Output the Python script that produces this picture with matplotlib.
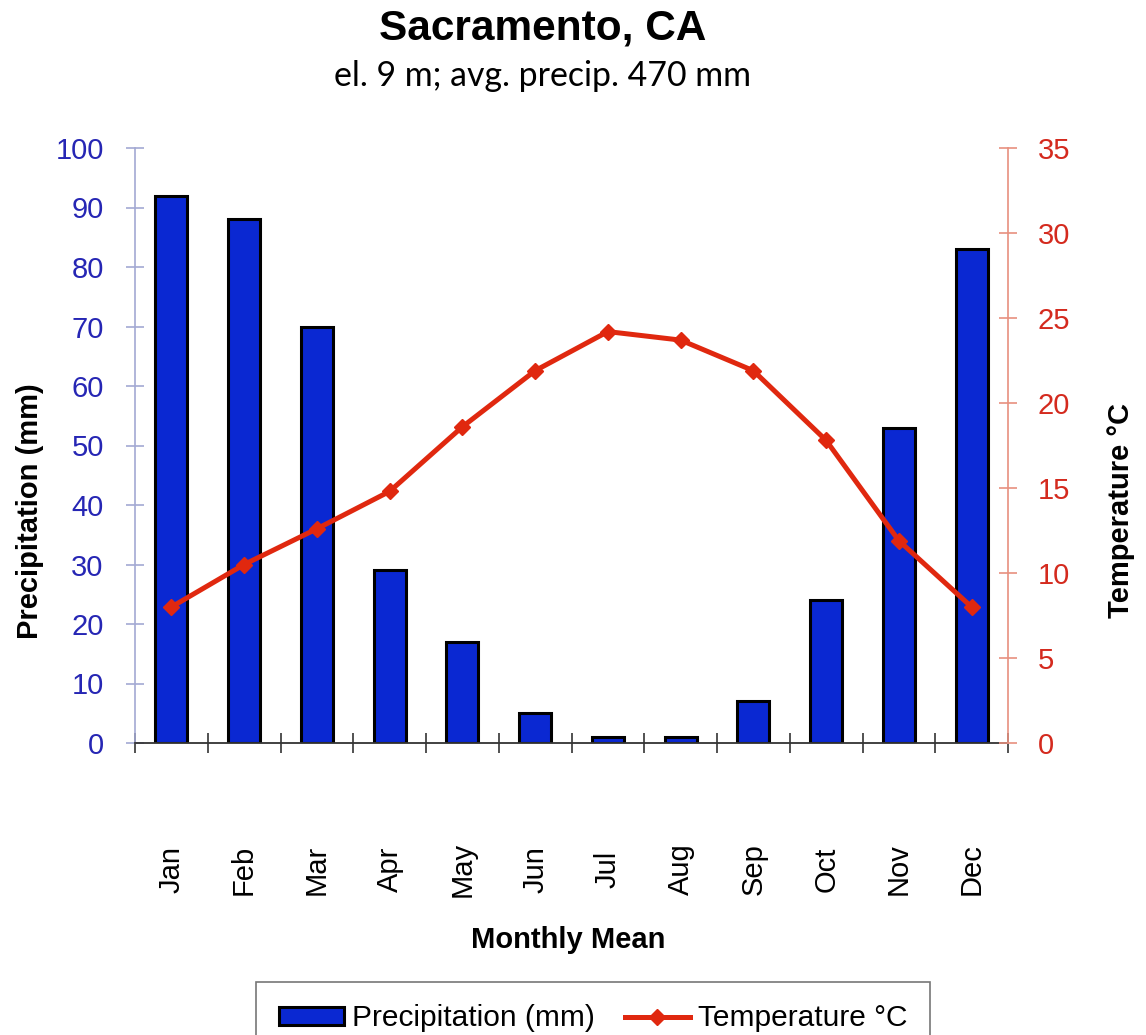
import numpy as np
import matplotlib.pyplot as plt
from matplotlib.ticker import FixedLocator

plt.rcParams['font.family'] = ['Liberation Sans', 'DejaVu Sans']

months = ['Jan', 'Feb', 'Mar', 'Apr', 'May', 'Jun',
          'Jul', 'Aug', 'Sep', 'Oct', 'Nov', 'Dec']
precip_mm = [92, 88, 70, 29, 17, 5, 1, 1, 7, 24, 53, 83]
temp_c = [8.0, 10.5, 12.6, 14.8, 18.6, 21.9, 24.2, 23.7, 21.9, 17.8, 11.9, 8.0]
precip_ticks = [0, 10, 20, 30, 40, 50, 60, 70, 80, 90, 100]
temp_ticks = [0, 5, 10, 15, 20, 25, 30, 35]

title = 'Sacramento, CA'
subtitle = 'el. 9 m; avg. precip. 470 mm'

blue_bar = '#0A28D2'
blue_txt = '#2626B4'
blue_spine = '#A3A9D3'
red_line = '#E0280F'
red_txt = '#D42A1E'
red_spine = '#E8907F'

fig = plt.figure(figsize=(11.46, 10.35), dpi=100)
ax = fig.add_axes([135 / 1146, 1 - 743 / 1035, 873 / 1146, 595 / 1035])
ax2 = ax.twinx()

x = np.arange(len(months))
bars = ax.bar(x, precip_mm, width=0.44, color=blue_bar, edgecolor='black',
              linewidth=2.2, label='Precipitation (mm)', zorder=2)
line, = ax2.plot(x, temp_c, color=red_line, linewidth=3.6, marker='D',
                 markersize=8, label='Temperature °C', zorder=3)

# left axis
ax.set_xlim(-0.5, len(months) - 0.5)
ax.set_ylim(0, 100)
ax.set_yticks(precip_ticks)
ax.tick_params(axis='y', direction='inout', length=13, width=1.2,
               color=blue_spine, labelcolor=blue_txt, labelsize=21, pad=16)
ax.spines['left'].set_color(blue_spine)
ax.spines['left'].set_linewidth(1.2)
ax.spines['top'].set_visible(False)
ax.spines['right'].set_visible(False)
ax.spines['bottom'].set_color('#333333')
ax.spines['bottom'].set_linewidth(1.3)

# x axis: labels at centers, crossing ticks at category edges
ax.set_xticks(x)
ax.set_xticklabels(months, rotation=90, va='center', ha='center')
ax.xaxis.set_minor_locator(FixedLocator(np.arange(-0.5, len(months), 1.0)))
ax.tick_params(axis='x', which='major', length=0, labelsize=21, pad=91)
ax.tick_params(axis='x', which='minor', direction='inout', length=14,
               width=1.2, color='#333333')

ax.set_ylabel('Precipitation (mm)', fontsize=21, fontweight='bold',
              va='center', ha='center')
ax.yaxis.set_label_coords(-0.12, 0.39)

# right axis
ax2.set_ylim(0, 35)
ax2.set_yticks(temp_ticks)
ax2.tick_params(axis='y', direction='inout', length=13, width=1.2,
                color=red_spine, labelcolor=red_txt, labelsize=21, pad=15)
ax2.spines['right'].set_color(red_spine)
ax2.spines['right'].set_linewidth(1.2)
ax2.spines['top'].set_visible(False)
ax2.spines['left'].set_visible(False)
ax2.spines['bottom'].set_visible(False)
ax2.set_ylabel('Temperature °C', fontsize=21, fontweight='bold',
               va='center', ha='center')
ax2.yaxis.set_label_coords(1.13, 0.39)

fig.text(543 / 1146, 1 - 29 / 1035, title, fontsize=30.5, fontweight='bold',
         ha='center', va='center')
fig.text(543 / 1146, 1 - 76 / 1035, subtitle, fontsize=24.4, family='Lato',
         ha='center', va='center')
fig.text(568 / 1146, 1 - 940 / 1035, 'Monthly Mean', fontsize=21,
         fontweight='bold', ha='center', va='center')

leg = fig.legend([bars, line], ['Precipitation (mm)', 'Temperature °C'],
                 loc='upper center', bbox_to_anchor=(593 / 1146, 1 - 982 / 1035),
                 borderaxespad=0, ncol=2, fontsize=21.5, frameon=True,
                 fancybox=False, handlelength=2.2, handleheight=0.55,
                 handletextpad=0.25, columnspacing=1.0, borderpad=0.75)
leg.get_frame().set_edgecolor('#555555')
leg.get_frame().set_linewidth(1.2)

fig.savefig('out.png', dpi=100)
